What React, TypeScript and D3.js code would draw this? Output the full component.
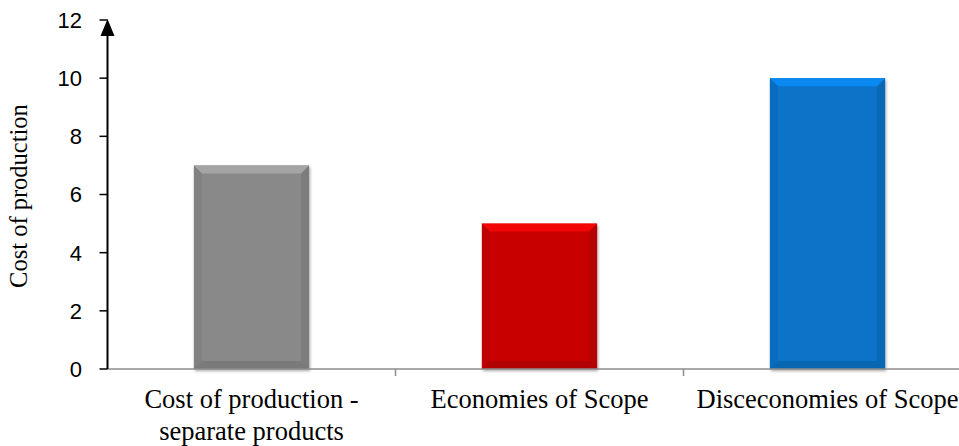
import React from "react";
import * as d3 from "d3";

const categories: string[][] = [
  ["Cost of production -", "separate products"],
  ["Economies of Scope"],
  ["Disceconomies of Scope"],
];
const values: number[] = [7, 5, 10];
const barColors: string[] = ["#898989", "#C90606", "#0873C8"];
const yTicks: number[] = [0, 2, 4, 6, 8, 10, 12];

const W = 959;
const H = 446;
const left = 107.5;
const bottom = 369;
const top = 20;
const step = 288;

export default function App() {
  const x = d3
    .scaleBand<number>()
    .domain(d3.range(values.length))
    .range([left, left + step * values.length])
    .paddingInner(0.6)
    .paddingOuter(0.3);
  const y = d3.scaleLinear().domain([0, 12]).range([bottom, top]);
  const bev = 8;

  return (
    <svg
      width={W}
      height={H}
      style={{ position: "absolute", left: 0, top: 0, background: "#fff" }}
    >
      <defs>
        <filter id="sh" x="-20%" y="-20%" width="140%" height="140%">
          <feDropShadow dx="1" dy="2" stdDeviation="1.5" floodColor="#000" floodOpacity="0.35" />
        </filter>
      </defs>
      {values.map((v, i) => {
        const x0 = x(i)!;
        const w = x.bandwidth();
        const x1 = x0 + w;
        const y0 = y(v);
        const y1 = y(0);
        const c = d3.color(barColors[i])!;
        const light = d3.color(barColors[i])!.brighter(0.6).formatHex();
        const dark = d3.color(barColors[i])!.darker(0.35).formatHex();
        const darker = d3.color(barColors[i])!.darker(0.6).formatHex();
        return (
          <g key={i}>
            <rect x={x0} y={y0} width={w} height={y1 - y0} fill={c.formatHex()} filter="url(#sh)" />
            <polygon
              points={`${x0},${y0} ${x1},${y0} ${x1 - bev},${y0 + bev} ${x0 + bev},${y0 + bev}`}
              fill={light}
              opacity={0.85}
            />
            <polygon
              points={`${x0},${y0} ${x0 + bev},${y0 + bev} ${x0 + bev},${y1 - bev} ${x0},${y1}`}
              fill={dark}
              opacity={0.5}
            />
            <polygon
              points={`${x1},${y0} ${x1 - bev},${y0 + bev} ${x1 - bev},${y1 - bev} ${x1},${y1}`}
              fill={darker}
              opacity={0.5}
            />
            <polygon
              points={`${x0},${y1} ${x0 + bev},${y1 - bev} ${x1 - bev},${y1 - bev} ${x1},${y1}`}
              fill={darker}
              opacity={0.6}
            />
          </g>
        );
      })}
      <line x1={left} x2={W} y1={bottom} y2={bottom} stroke="#8c8c8c" strokeWidth={1.5} />
      {d3.range(1, values.length).map((i) => {
        const xt = x(i)! - (x.step() * x.paddingInner()) / 2;
        return <line key={i} x1={xt} x2={xt} y1={bottom} y2={bottom + 7} stroke="#8c8c8c" strokeWidth={1.5} />;
      })}
      {categories.map((lines, i) => (
        <text
          key={i}
          x={x(i)! + x.bandwidth() / 2}
          y={408}
          textAnchor="middle"
          fontFamily="Liberation Serif"
          fontSize={26.5}
          fill="#000"
        >
          {lines.map((l, j) => (
            <tspan key={j} x={x(i)! + x.bandwidth() / 2} dy={j === 0 ? 0 : 32}>
              {l}
            </tspan>
          ))}
        </text>
      ))}
      <line x1={left} x2={left} y1={bottom} y2={top + 10} stroke="#000" strokeWidth={2} />
      <polygon
        points={`${left},${top - 1} ${left - 7},${top + 16} ${left + 7},${top + 16}`}
        fill="#000"
      />
      {yTicks.map((t) => (
        <g key={t}>
          <line x1={left - 8} x2={left} y1={y(t)} y2={y(t)} stroke="#000" strokeWidth={1.5} />
          <text
            x={82}
            y={y(t)}
            dy="0.36em"
            textAnchor="end"
            fontFamily="Liberation Sans"
            fontSize={22}
            fill="#000"
          >
            {t}
          </text>
        </g>
      ))}
      <text
        transform={`translate(27,196) rotate(-90)`}
        textAnchor="middle"
        fontFamily="Liberation Serif"
        fontSize={24.5}
        fill="#000"
      >
        Cost of production
      </text>
    </svg>
  );
}
